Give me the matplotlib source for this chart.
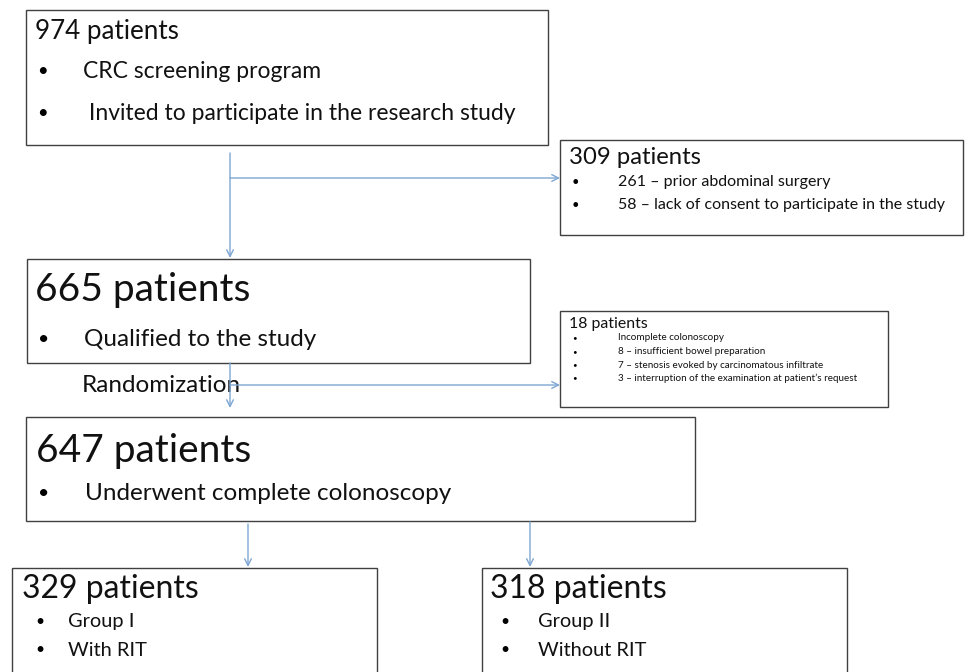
import matplotlib.pyplot as plt
from matplotlib.patches import Rectangle

plt.rcParams["font.family"] = ["Lato", "DejaVu Sans"]

# box contents: (title, bullet lines)
box_titles = ["974 patients", "309 patients", "665 patients", "18 patients",
              "647 patients", "329 patients", "318 patients"]
box_bullets = [
    ["CRC screening program", " Invited to participate in the research study"],
    ["261 \u2013 prior abdominal surgery", "58 \u2013 lack of consent to participate in the study"],
    ["Qualified to the study"],
    ["Incomplete colonoscopy", "8 \u2013 insufficient bowel preparation",
     "7 \u2013 stenosis evoked by carcinomatous infiltrate",
     "3 \u2013 interruption of the examination at patient\u2019s request"],
    ["Underwent complete colonoscopy"],
    ["Group I", "With RIT"],
    ["Group II", "Without RIT"],
]
side_label = "Randomization"

# layout in pixel units (x0, y0, x1, y1)
boxes = [(26, 10, 548, 145), (560, 140, 963, 235), (27, 259, 530, 363),
         (560, 311, 888, 407), (26, 417, 695, 521), (12, 568, 377, 700),
         (482, 568, 847, 700)]
title_pos = [(35, 31, 18.7), (569, 157, 17.2), (35, 290, 28), (569, 324, 11.4),
             (36, 451, 28), (22, 589, 23), (490, 589, 23)]
bullet_x = [(37, 83), (572, 618), (38, 84), (572, 618), (38, 85), (35, 68), (500, 538)]
bullet_y = [[71, 113], [182, 205], [340], [338, 352, 365, 378], [493], [622, 650], [622, 650]]
bullet_fs = [16.5, 11.5, 17.5, 7.1, 17.5, 14.4, 14.4]

ARROW = "#7ea6d3"
EDGE = "#404040"

fig = plt.figure(figsize=(9.65, 6.72), dpi=100)
ax = fig.add_axes([0, 0, 1, 1])
ax.set_xlim(0, 965)
ax.set_ylim(672, 0)
ax.axis("off")

for i, (x0, y0, x1, y1) in enumerate(boxes):
    ax.add_patch(Rectangle((x0, y0), x1 - x0, y1 - y0, fill=False,
                           edgecolor=EDGE, linewidth=1.0))
    tx, ty, tfs = title_pos[i]
    ax.text(tx, ty, box_titles[i], fontsize=tfs, va="center", ha="left", color="#111111")
    bx, lx = bullet_x[i]
    for line, yy in zip(box_bullets[i], bullet_y[i]):
        ax.text(bx, yy, "\u2022", fontsize=bullet_fs[i] * 0.8, va="center", ha="left")
        ax.text(lx, yy, line, fontsize=bullet_fs[i], va="center", ha="left", color="#111111")

ax.text(82, 386, side_label, fontsize=17.5, va="center", ha="left", color="#111111")


def arrow(x0, y0, x1, y1):
    ax.annotate("", xy=(x1, y1), xytext=(x0, y0),
                arrowprops=dict(arrowstyle="->", color=ARROW, lw=1.0,
                                shrinkA=0, shrinkB=0, mutation_scale=12))


# connectors
arrow(230, 153, 230, 258)
arrow(230, 178, 560, 178)
arrow(230, 363, 230, 408)
arrow(230, 385, 560, 385)
arrow(248, 524, 248, 567)
arrow(530, 522, 530, 567)

fig.savefig("out.png", dpi=100)
